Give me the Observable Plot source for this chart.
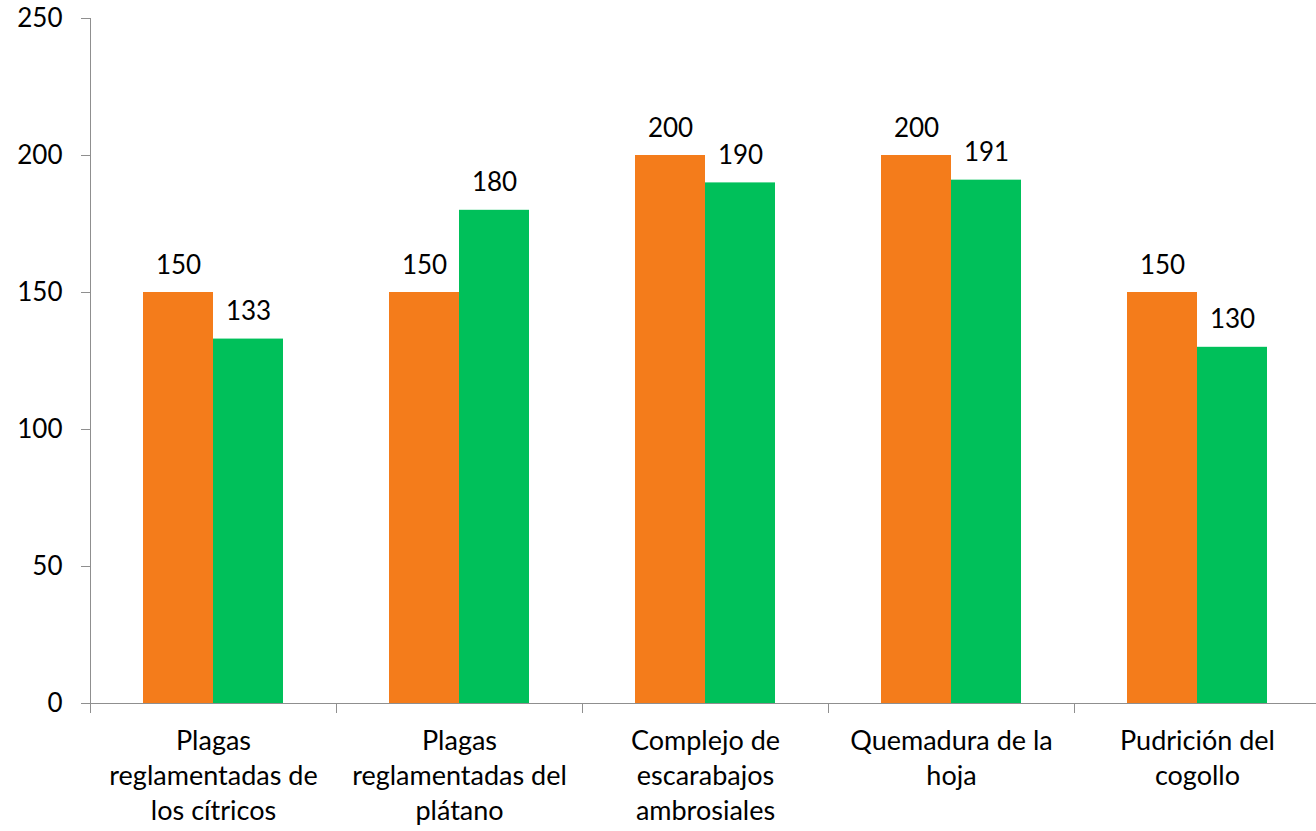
<!DOCTYPE html>
<html>
<head>
<meta charset="utf-8">
<script src="https://cdn.jsdelivr.net/npm/d3@7"></script>
<script src="https://cdn.jsdelivr.net/npm/@observablehq/plot@0.6"></script>
<style>
  html, body { margin: 0; padding: 0; background: #fff; }
</style>
</head>
<body>
<div id="chart"></div>
<script>
const categories = [
  "Plagas reglamentadas de los cítricos",
  "Plagas reglamentadas del plátano",
  "Complejo de escarabajos ambrosiales",
  "Quemadura de la hoja",
  "Pudrición del cogollo"
];
const categoryLabels = [
  "Plagas\nreglamentadas de\nlos cítricos",
  "Plagas\nreglamentadas del\nplátano",
  "Complejo de\nescarabajos\nambrosiales",
  "Quemadura de la\nhoja",
  "Pudrición del\ncogollo"
];
const seriesNames = ["Serie 1", "Serie 2"];
const serie1 = [150, 150, 200, 200, 150];
const serie2 = [133, 180, 190, 191, 130];
const yTicks = [0, 50, 100, 150, 200, 250];
const colors = ["#F47C1B", "#00C05A"];

const data = [];
categories.forEach((c, i) => {
  data.push({category: c, serie: seriesNames[0], value: serie1[i]});
  data.push({category: c, serie: seriesNames[1], value: serie2[i]});
});
const labelOf = new Map(categories.map((c, i) => [c, categoryLabels[i]]));
const gray = "#8f8f8f";

const plot = Plot.plot({
  width: 1316,
  height: 831,
  marginTop: 18,
  marginBottom: 128,
  marginLeft: 90,
  marginRight: -4,
  style: {fontFamily: "Lato, sans-serif", fontSize: "26px", color: "#000", background: "#fff"},
  fx: {domain: categories, padding: 0, label: null},
  x: {domain: seriesNames, paddingInner: 0, paddingOuter: 0.757, axis: null},
  y: {domain: [0, 250], label: null},
  color: {domain: seriesNames, range: colors},
  marks: [
    Plot.barY(data, {fx: "category", x: "serie", y: "value", fill: "serie"}),
    Plot.text(data, {fx: "category", x: "serie", y: "value", text: d => String(d.value), lineAnchor: "bottom", dy: -19}),
    Plot.ruleY([0], {stroke: gray}),
    Plot.frame({anchor: "left", facetAnchor: "left", stroke: gray, insetBottom: -9}),
    Plot.frame({anchor: "left", stroke: gray, insetTop: 685, insetBottom: -9}),
    Plot.axisY({ticks: yTicks, tickSize: 9, tickPadding: 19, stroke: gray, label: null}),
    Plot.axisFx({anchor: "bottom", tickSize: 0, tickPadding: 21, fontSize: 27, lineHeight: 1.31, tickFormat: d => labelOf.get(d), label: null})
  ]
});
document.getElementById("chart").appendChild(plot);
</script>
</body>
</html>
